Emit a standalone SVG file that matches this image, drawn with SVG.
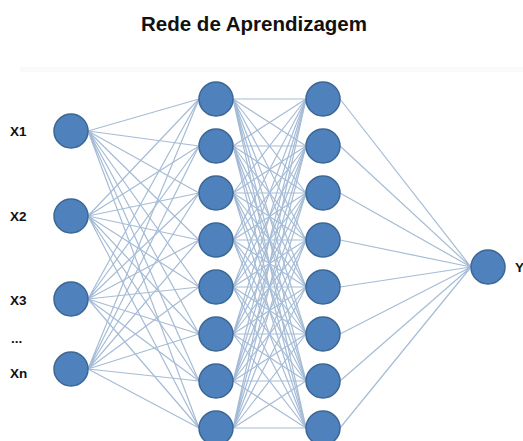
<svg xmlns="http://www.w3.org/2000/svg" width="523" height="441" viewBox="0 0 523 441">
<style>
.node{fill:#4f81bd;stroke:#3b6795;stroke-width:1.5}
.conn{fill:none;stroke:#a6bcd6;stroke-width:1.2}
.lbl{font-family:"Liberation Sans",Arial,sans-serif;font-weight:bold;font-size:13.5px;fill:#111}
.title{font-family:"Liberation Sans",Arial,sans-serif;font-weight:bold;font-size:20.5px;fill:#111}
</style>
<rect x="0" y="0" width="523" height="441" fill="#ffffff"/>
<rect x="20" y="67" width="503" height="5" fill="#fafafa"/>
<text class="title" x="254" y="31" text-anchor="middle">Rede de Aprendizagem</text>
<g id="connectors">
<path class="conn" d="M88 131L199 99M88 131L199 146M88 131L199 193M88 131L199 240M88 131L199 287M88 131L199 334M88 131L199 381M88 131L199 428"/>
<path class="conn" d="M88 216L199 99M88 216L199 146M88 216L199 193M88 216L199 240M88 216L199 287M88 216L199 334M88 216L199 381M88 216L199 428"/>
<path class="conn" d="M88 299L199 99M88 299L199 146M88 299L199 193M88 299L199 240M88 299L199 287M88 299L199 334M88 299L199 381M88 299L199 428"/>
<path class="conn" d="M88 369L199 99M88 369L199 146M88 369L199 193M88 369L199 240M88 369L199 287M88 369L199 334M88 369L199 381M88 369L199 428"/>
<path class="conn" d="M233 99L306 99M233 99L306 146M233 99L306 193M233 99L306 240M233 99L306 287M233 99L306 334M233 99L306 381M233 99L306 428"/>
<path class="conn" d="M233 146L306 99M233 146L306 146M233 146L306 193M233 146L306 240M233 146L306 287M233 146L306 334M233 146L306 381M233 146L306 428"/>
<path class="conn" d="M233 193L306 99M233 193L306 146M233 193L306 193M233 193L306 240M233 193L306 287M233 193L306 334M233 193L306 381M233 193L306 428"/>
<path class="conn" d="M233 240L306 99M233 240L306 146M233 240L306 193M233 240L306 240M233 240L306 287M233 240L306 334M233 240L306 381M233 240L306 428"/>
<path class="conn" d="M233 287L306 99M233 287L306 146M233 287L306 193M233 287L306 240M233 287L306 287M233 287L306 334M233 287L306 381M233 287L306 428"/>
<path class="conn" d="M233 334L306 99M233 334L306 146M233 334L306 193M233 334L306 240M233 334L306 287M233 334L306 334M233 334L306 381M233 334L306 428"/>
<path class="conn" d="M233 381L306 99M233 381L306 146M233 381L306 193M233 381L306 240M233 381L306 287M233 381L306 334M233 381L306 381M233 381L306 428"/>
<path class="conn" d="M233 428L306 99M233 428L306 146M233 428L306 193M233 428L306 240M233 428L306 287M233 428L306 334M233 428L306 381M233 428L306 428"/>
<path class="conn" d="M340 99L471 267M340 146L471 267M340 193L471 267M340 240L471 267M340 287L471 267M340 334L471 267M340 381L471 267M340 428L471 267"/>
</g>
<g id="in1"><circle class="node" cx="71" cy="131" r="17"/><text class="lbl" x="10" y="136">X1</text></g>
<g id="in2"><circle class="node" cx="71" cy="216" r="17"/><text class="lbl" x="10" y="221">X2</text></g>
<g id="in3"><circle class="node" cx="71" cy="299" r="17"/><text class="lbl" x="10" y="305">X3</text></g>
<text class="lbl" x="11" y="343">...</text>
<g id="inN"><circle class="node" cx="71" cy="369" r="17"/><text class="lbl" x="10" y="378">Xn</text></g>
<g id="h1_1"><circle class="node" cx="216" cy="99" r="17"/></g>
<g id="h1_2"><circle class="node" cx="216" cy="146" r="17"/></g>
<g id="h1_3"><circle class="node" cx="216" cy="193" r="17"/></g>
<g id="h1_4"><circle class="node" cx="216" cy="240" r="17"/></g>
<g id="h1_5"><circle class="node" cx="216" cy="287" r="17"/></g>
<g id="h1_6"><circle class="node" cx="216" cy="334" r="17"/></g>
<g id="h1_7"><circle class="node" cx="216" cy="381" r="17"/></g>
<g id="h1_8"><circle class="node" cx="216" cy="428" r="17"/></g>
<g id="h2_1"><circle class="node" cx="323" cy="99" r="17"/></g>
<g id="h2_2"><circle class="node" cx="323" cy="146" r="17"/></g>
<g id="h2_3"><circle class="node" cx="323" cy="193" r="17"/></g>
<g id="h2_4"><circle class="node" cx="323" cy="240" r="17"/></g>
<g id="h2_5"><circle class="node" cx="323" cy="287" r="17"/></g>
<g id="h2_6"><circle class="node" cx="323" cy="334" r="17"/></g>
<g id="h2_7"><circle class="node" cx="323" cy="381" r="17"/></g>
<g id="h2_8"><circle class="node" cx="323" cy="428" r="17"/></g>
<g id="out"><circle class="node" cx="488" cy="267" r="17"/><text class="lbl" x="515" y="272">Y</text></g>
</svg>
